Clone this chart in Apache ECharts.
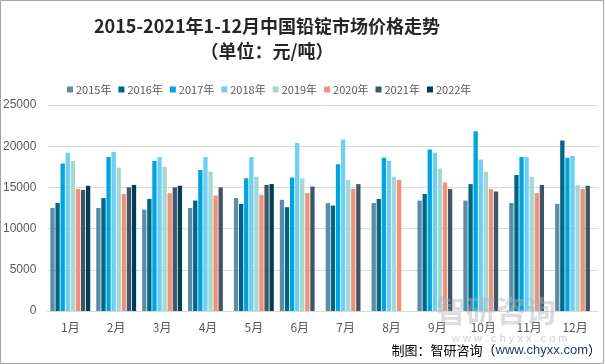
<!DOCTYPE html>
<html><head><meta charset="utf-8">
<script src="https://cdn.jsdelivr.net/npm/echarts@6/dist/echarts.min.js"></script>
<style>html,body{margin:0;padding:0;background:#fff}#c{width:605px;height:364px}</style>
</head><body><div id="c"></div>
<script>
const months = ['1月','2月','3月','4月','5月','6月','7月','8月','9月','10月','11月','12月'];
const yearNames = ['2015年','2016年','2017年','2018年','2019年','2020年','2021年','2022年'];
const y2015 = [12500,12500,12300,12500,13700,13500,13100,13100,13400,13400,13100,13000];
const y2016 = [13100,13700,13600,13400,13000,12600,12800,13600,14200,15400,16500,20700];
const y2017 = [17900,18700,18200,17100,16100,16200,17800,18600,19600,21800,18700,18600];
const y2018 = [19200,19300,18700,18700,18700,20400,20800,18200,19200,18400,18700,18800];
const y2019 = [18200,17400,17500,16900,16300,16100,15900,16300,17300,16900,16300,15300];
const y2020 = [14800,14200,14300,14000,14100,14300,14800,15900,15600,14800,14300,14800];
const y2021 = [14700,15000,15000,15000,15300,15100,15400,null,14800,14500,15300,15200];
const y2022 = [15200,15300,15200,null,15400,null,null,null,null,null,null,null];
const yTicks = [0,5000,10000,15000,20000,25000];

const colors = ['#5A8EA8','#006689','#00A5DC','#6DCFF6','#A5D8D3','#EE937A','#3E5667','#003F58'];
const seriesData = [y2015,y2016,y2017,y2018,y2019,y2020,y2021,y2022];

const chart = echarts.init(document.getElementById('c'));
chart.setOption({
  animation: false,
  color: colors,
  title: [{
    text: '2015-2021年1-12月中国铅锭市场价格走势',
    left: 262, top: 12, textAlign: 'center',
    textStyle: {fontSize: 18, fontWeight: 'bold', color: '#262626', fontFamily: '"Noto Sans CJK SC", sans-serif'}
  },{
    text: '（单位：元/吨）',
    left: 262, top: 37, textAlign: 'center',
    textStyle: {fontSize: 18, fontWeight: 'bold', color: '#262626', fontFamily: '"Noto Sans CJK SC", sans-serif'}
  }],
  legend: {
    data: yearNames, top: 79, left: 62,
    itemWidth: 6, itemHeight: 6, itemGap: 7, icon: 'rect',
    textStyle: {fontSize: 11, color: '#595959', fontFamily: '"Noto Sans CJK SC", sans-serif', padding: [0,0,0,-2]}
  },
  grid: {left: 46, right: 7, top: 105, bottom: 53},
  xAxis: {
    type: 'category', data: months,
    axisLine: {lineStyle: {color: '#D9D9D9'}},
    axisTick: {show: false},
    axisLabel: {color: '#595959', fontSize: 12, margin: 10, fontFamily: '"Noto Sans CJK SC", sans-serif'}
  },
  yAxis: {
    type: 'value', min: yTicks[0], max: yTicks[yTicks.length-1], interval: 5000,
    axisLine: {show: false}, axisTick: {show: false},
    splitLine: {lineStyle: {color: '#D9D9D9'}},
    axisLabel: {color: '#595959', fontSize: 12, margin: 11, fontFamily: 'Liberation Sans, sans-serif', formatter: v => String(v)}
  },
  series: seriesData.map((d, i) => ({
    name: yearNames[i], type: 'bar', data: d,
    barCategoryGap: '13%', barGap: '18%'
  })),
  graphic: [
    {type: 'text', left: 436, top: 296, z: 100, style: {text: '智研咨询', fontSize: 30, fontWeight: 'bold', fill: 'rgba(170,180,190,0.45)', fontFamily: '"Noto Sans CJK SC", sans-serif'}},
    {type: 'text', left: 452, top: 333, z: 100, style: {text: 'w w w . c h y x x . c o m', fontSize: 11, fill: 'rgba(170,180,190,0.6)', fontFamily: 'Liberation Sans, sans-serif'}},
    {type: 'text', right: 4, top: 344, z: 101, style: {rich: {a: {fontSize: 13, fill: '#000', fontFamily: '"Noto Sans CJK SC", sans-serif'}, b: {fontSize: 13, fill: '#1F3A6B', fontFamily: 'Liberation Sans, sans-serif'}}, text: '{a|制图：智研咨询（}{b|www.chyxx.com}{a|）}'}},
    {type: 'rect', shape: {x: 0.5, y: 0.5, width: 603, height: 363}, style: {fill: 'none', stroke: '#A6A6A6', lineWidth: 1}, z: 200, silent: true}
  ]
});
</script></body></html>
